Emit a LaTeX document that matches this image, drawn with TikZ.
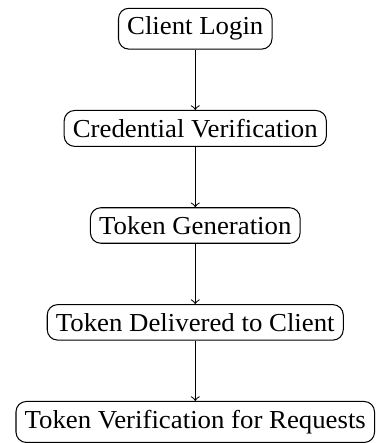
\documentclass[tikz,border=0pt]{standalone}
\usepackage{fontspec}
\setmainfont{Liberation Serif}[FakeStretch=1.035]
\usetikzlibrary{positioning,calc}
\begin{document}
\begin{tikzpicture}[
  stepbox/.style={draw, rounded corners=4pt, font=\fontsize{10}{12}\selectfont, line width=0.4pt},
  flow/.style={->, line width=0.4pt},
  node distance=23.3pt
]
\node[stepbox] (a) at (0,0) {Client Login};
\node[stepbox, below=of a] (b) {Credential Verification};
\node[stepbox, below=of b] (c) {Token Generation};
\node[stepbox, below=of c] (d) {Token Delivered to Client};
\node[stepbox, below=of d] (e) {Token Verification for Requests};
\draw[flow] (a) -- (b);
\draw[flow] (b) -- (c);
\draw[flow] (c) -- (d);
\draw[flow] (d) -- (e);
\useasboundingbox ($(a.north)+(-75.4pt,3pt)$) rectangle ($(a.north)+(65.66pt,-165.4pt)$);
\end{tikzpicture}
\end{document}
